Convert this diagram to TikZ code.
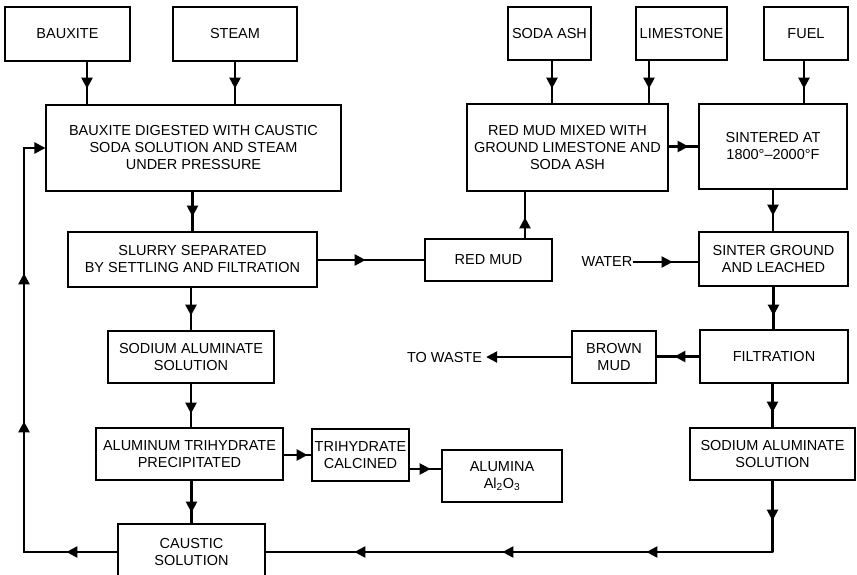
\documentclass[tikz,border=0pt]{standalone}
\usepackage{fontspec}
\setmainfont{Liberation Sans}
\usetikzlibrary{arrows.meta,decorations.markings}
\tikzset{
  box/.style={draw, line width=1.2pt, align=center, inner sep=0pt, font=\fontsize{14.5}{17}\selectfont},
  lbl/.style={inner sep=0pt, font=\fontsize{14.5}{17}\selectfont},
  conn/.style={line width=2.4pt},
  endtip/.style={-{Triangle[length=11pt,width=11pt]}},
  mid/.style={postaction={decorate, decoration={markings, mark=at position #1 with {\arrow{Triangle[length=11pt,width=11pt]}}}}},
}
\begin{document}
\begin{tikzpicture}[x=1pt,y=-1pt]
\fill[white] (0,0) rectangle (857,575);
\clip (0,0) rectangle (857,575);
% top inputs
\node[box, minimum width=125pt, minimum height=54pt] (bauxite) at (67.5,34) {BAUXITE};
\node[box, minimum width=124pt, minimum height=54pt] (steam) at (235,34) {STEAM};
\node[box, minimum width=83pt, minimum height=53pt] (sodaash) at (549.5,33.5) {SODA ASH};
\node[box, minimum width=91pt, minimum height=53pt] (limestone) at (681.5,33.5) {LIMESTONE};
\node[box, minimum width=84pt, minimum height=53pt] (fuel) at (806,33.5) {FUEL};
% process boxes
\node[box, minimum width=295pt, minimum height=86pt] (digest) at (193.5,148) {BAUXITE DIGESTED WITH CAUSTIC\\SODA SOLUTION AND STEAM\\UNDER PRESSURE};
\node[box, minimum width=201pt, minimum height=87pt] (mixed) at (567.5,147.5) {RED MUD MIXED WITH\\GROUND LIMESTONE AND\\SODA ASH};
\node[box, minimum width=148pt, minimum height=85pt] (sintered) at (773,146.5) {SINTERED AT\\1800°–2000°F};
\node[box, minimum width=249pt, minimum height=55pt] (slurry) at (192.5,259.5) {SLURRY SEPARATED\\BY SETTLING AND FILTRATION};
\node[box, minimum width=127pt, minimum height=42pt] (redmud) at (488.5,260) {RED MUD};
\node[box, minimum width=149pt, minimum height=54pt] (sinterg) at (773.5,259) {SINTER GROUND\\AND LEACHED};
\node[lbl] (water) at (607,262) {WATER};
\node[box, minimum width=166pt, minimum height=52pt] (sodium1) at (191,357) {SODIUM ALUMINATE\\SOLUTION};
\node[box, minimum width=84pt, minimum height=52pt] (brown) at (614,357) {BROWN\\MUD};
\node[box, minimum width=148pt, minimum height=53pt] (filtration) at (774,356.5) {FILTRATION};
\node[lbl] (waste) at (444.5,358) {TO WASTE};
\node[box, minimum width=187pt, minimum height=52pt] (trihyd) at (189.5,454) {ALUMINUM TRIHYDRATE\\PRECIPITATED};
\node[box, minimum width=97pt, minimum height=52pt] (calcined) at (360.5,455) {TRIHYDRATE\\CALCINED};
\node[box, minimum width=120pt, minimum height=52pt] (alumina) at (502,476) {ALUMINA\\Al\textsubscript{2}O\textsubscript{3}};
\node[box, minimum width=165pt, minimum height=52pt] (sodium2) at (772.5,454) {SODIUM ALUMINATE\\SOLUTION};
\node[box, minimum width=147pt, minimum height=56pt] (caustic) at (191.5,552) {CAUSTIC\\SOLUTION};
% helper coordinates
\coordinate (bxo) at ([xshift=19.5pt]bauxite.south);
\coordinate (lso) at ([xshift=-32.5pt]limestone.south);
\coordinate (sao) at ([xshift=2.5pt]sodaash.south);
\coordinate (fuo) at ([xshift=-2pt]fuel.south);
\coordinate (rmo) at ([xshift=36.5pt]redmud.north);
\coordinate (cao) at ([yshift=-14pt]calcined.east);
\coordinate (loop) at (24,300);
% connectors
\draw[conn, mid=27pt] (bxo) -- (bxo |- digest.north);
\draw[conn, mid=27pt] (steam.south) -- (steam.south |- digest.north);
\draw[conn, mid=28pt] (sao) -- (sao |- mixed.north);
\draw[conn, mid=28pt] (lso) -- (lso |- mixed.north);
\draw[conn, mid=28pt] (fuo) -- (fuo |- sintered.north);
\draw[conn, mid=25pt] (digest.south -| slurry.north) -- (slurry.north);
\draw[conn, mid=28pt] (slurry.south -| sodium1.north) -- (sodium1.north);
\draw[conn, mid=30pt] (sodium1.south) -- (sodium1.south |- trihyd.north);
\draw[conn, mid=32pt] (trihyd.south -| caustic.north) -- (caustic.north);
\draw[conn, mid=24pt] (trihyd.east |- calcined.west) -- (calcined.west);
\draw[conn, mid=21pt] (cao) -- (cao -| alumina.west);
\draw[conn, mid=48pt] (slurry.east |- redmud.west) -- (redmud.west);
\draw[conn, mid=21pt] (rmo) -- (rmo |- mixed.south);
\draw[conn, mid=20pt] (mixed.east |- sintered.west) -- (sintered.west);
\draw[conn, mid=26pt] (sintered.south) -- (sintered.south |- sinterg.north);
\draw[conn, mid=40pt] (water.east) -- (water.east -| sinterg.west);
\draw[conn, mid=29pt] (sinterg.south) -- (sinterg.south |- filtration.north);
\draw[conn, mid=25pt] (filtration.west) -- (filtration.west -| brown.east);
\draw[conn, endtip] (brown.west) -- ([xshift=4pt]brown.west -| waste.east);
\draw[conn, mid=29pt] (filtration.south -| sodium2.north) -- (sodium2.north);
\draw[conn, line join=round, mid=40pt, mid=197.5pt, mid=341.5pt, mid=489.5pt] (sodium2.south) -- (sodium2.south |- caustic.east) -- (caustic.east);
\draw[conn, endtip, mid=51pt, mid=224pt, mid=372pt] (caustic.west) -| (loop |- digest.west) -- (digest.west);
\end{tikzpicture}
\end{document}
